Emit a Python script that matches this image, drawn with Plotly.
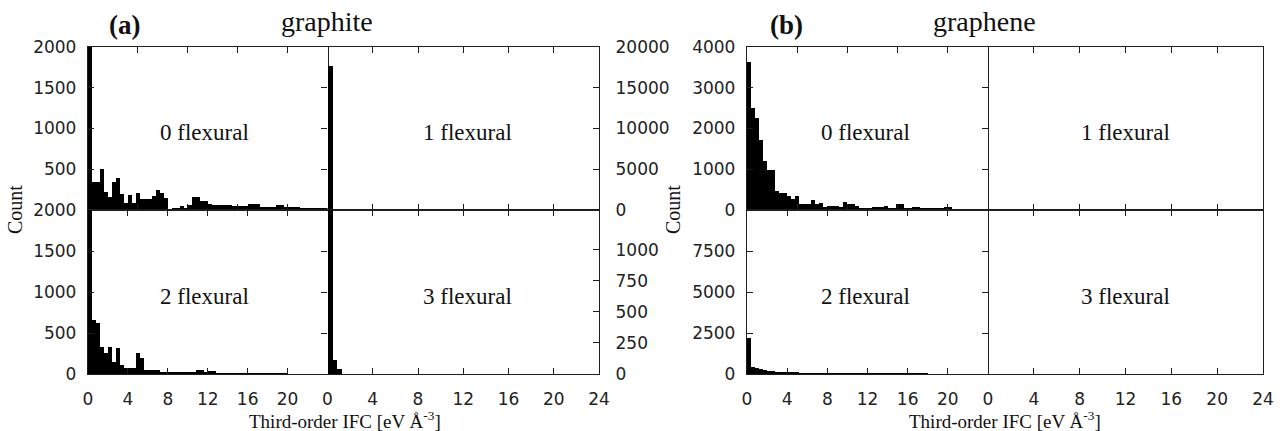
import plotly.graph_objects as go

# ---------------- data (histograms, bin width 0.4 eV/A^3, bins start at 0) ----------------
BIN = 0.4

graphite_0flex = [5500, 348, 348, 503, 225, 164, 340, 388, 200, 82,
                  184, 90, 204, 130, 135, 130, 172, 245, 204, 143,
                  10, 20, 30, 45, 20, 60, 155, 155, 115, 115,
                  70, 65, 60, 60, 60, 60, 55, 55, 55, 50,
                  70, 70, 70, 40, 40, 40, 40, 60, 60, 40,
                  40, 35, 35, 30, 20, 20, 20, 20, 20, 20]
graphite_1flex = [17700, 0, 0, 0]
graphite_2flex = [4000, 660, 620, 333, 260, 333, 150, 313, 110, 77,
                  77, 77, 260, 200, 49, 49, 49, 49, 20, 20,
                  20, 20, 20, 20, 20, 20, 20, 49, 49, 20,
                  37, 37, 10, 10, 10, 10, 8, 8, 8, 8,
                  6, 6, 6, 6, 5, 5, 5, 5, 5, 5]
graphite_3flex = [3000, 113, 40]

graphene_0flex = [3640, 2510, 2270, 1730, 1210, 980, 980, 460, 410, 410,
                  335, 265, 335, 150, 140, 140, 255, 150, 175, 82,
                  110, 110, 110, 82, 188, 147, 147, 100, 40, 40,
                  35, 82, 82, 70, 100, 60, 60, 150, 150, 40,
                  60, 70, 70, 40, 35, 40, 40, 35, 35, 70,
                  70, 20, 15, 15, 15, 15, 15, 15, 15, 15]
graphene_1flex = [0, 0, 0]
graphene_2flex = [2200, 450, 380, 294, 250, 189, 189, 126, 126, 63,
                  63, 63, 63, 42, 42, 42, 20, 20, 15, 15,
                  10, 10, 10, 10, 10, 10, 10, 10, 10, 10,
                  8, 8, 8, 8, 8, 8, 8, 8, 5, 5,
                  5, 5, 5, 5, 5]
graphene_3flex = [0, 0, 0]

left_xticks_top = [5, 10, 15, 20]
left_xticks_bottom = [0, 4, 8, 12, 16, 20]
right_xticks = [0, 4, 8, 12, 16, 20, 24]

yticks_a_top = [500, 1000, 1500, 2000]
yticks_a_bottom = [0, 500, 1000, 1500, 2000]
yticks_a_top_right = [0, 5000, 10000, 15000, 20000]
yticks_a_bottom_right = [0, 250, 500, 750, 1000]
yticks_b_top = [0, 1000, 2000, 3000, 4000]
yticks_b_bottom = [0, 2500, 5000, 7500]

W, H = 1283, 431


def fx(p):
    return p / W


def fy(p):
    return 1 - p / H


def centers(vals):
    return [BIN * (i + 0.5) for i in range(len(vals))]


colA_L, colA_R = (88, 327.5), (327.5, 599)
colB_L, colB_R = (747, 988), (988, 1263)
row_T, row_B = (47, 210), (210, 374)

subplots = {
    1: (graphite_0flex, colA_L, row_T),
    2: (graphite_1flex, colA_R, row_T),
    3: (graphite_2flex, colA_L, row_B),
    4: (graphite_3flex, colA_R, row_B),
    5: (graphene_0flex, colB_L, row_T),
    6: (graphene_1flex, colB_R, row_T),
    7: (graphene_2flex, colB_L, row_B),
    8: (graphene_3flex, colB_R, row_B),
}

fig = go.Figure()
for i, (vals, xd, yd) in subplots.items():
    fig.add_trace(go.Bar(
        x=centers(vals), y=vals, width=BIN,
        marker=dict(color="black", line=dict(width=0)),
        xaxis="x" if i == 1 else f"x{i}", yaxis="y" if i == 1 else f"y{i}",
        showlegend=False, hoverinfo="skip"))

LINE = "#1e1e1e"
TICKFONT = dict(family="DejaVu Sans", size=17, color="#222")
base = dict(showline=True, linecolor=LINE, linewidth=1.3, ticks="inside", ticklen=6,
            tickwidth=1.3, tickcolor=LINE, showgrid=False, zeroline=False,
            tickfont=TICKFONT, fixedrange=True, automargin=False)


def tt(vals):
    return dict(tickvals=vals, ticktext=[str(v) for v in vals])


layout = {}
for i, (vals, xd, yd) in subplots.items():
    xn = "xaxis" if i == 1 else f"xaxis{i}"
    yn = "yaxis" if i == 1 else f"yaxis{i}"
    is_left = i in (1, 3, 5, 7)
    is_top = i in (1, 2, 5, 6)
    xa = dict(base, domain=[fx(xd[0]), fx(xd[1])], range=[0, 24],
              anchor="y" if i == 1 else f"y{i}", mirror="ticks", ticklabelstandoff=9)
    if is_left and is_top:
        xa.update(tickvals=left_xticks_top, showticklabels=False)
    elif is_left:
        xa.update(**tt(left_xticks_bottom))
    elif is_top:
        xa.update(tickvals=right_xticks[1:-1], showticklabels=False)
    else:
        xa.update(**tt(right_xticks))
    ya = dict(base, domain=[fy(yd[1]), fy(yd[0])],
              anchor="x" if i == 1 else f"x{i}")
    if i == 1:
        ya.update(range=[0, 2000], mirror="ticks", ticklabelstandoff=7, **tt(yticks_a_top))
    elif i == 3:
        ya.update(range=[0, 2000], mirror="ticks", ticklabelstandoff=7, **tt(yticks_a_bottom))
    elif i == 2:
        ya.update(range=[0, 20000], side="right", ticklabelstandoff=12, **tt(yticks_a_top_right))
    elif i == 4:
        ya.update(range=[0, 1320], side="right", ticklabelstandoff=12, **tt(yticks_a_bottom_right))
    elif i == 5:
        ya.update(range=[0, 4000], mirror="ticks", ticklabelstandoff=7, **tt(yticks_b_top))
    elif i == 7:
        ya.update(range=[0, 10000], mirror="ticks", ticklabelstandoff=7, **tt(yticks_b_bottom))
    else:
        ya.update(range=[0, 1], ticks="", showticklabels=False, side="right")
    layout[xn] = xa
    layout[yn] = ya

SERIF = "Liberation Serif, Times New Roman, Times, serif"
ann = []


def add_text(text, px, py, size, bold=False, angle=0):
    ann.append(dict(text=f"<b>{text}</b>" if bold else text, x=fx(px), y=fy(py),
                    xref="paper", yref="paper", xanchor="center", yanchor="middle",
                    showarrow=False, textangle=angle,
                    font=dict(family=SERIF, size=size, color="#111")))


add_text("(a)", 124, 25, 27, bold=True)
add_text("graphite", 327, 22, 28)
add_text("(b)", 786, 25, 27, bold=True)
add_text("graphene", 984, 22, 28)
for px, txt in [(204, "0 flexural"), (467, "1 flexural"), (865, "0 flexural"), (1125, "1 flexural")]:
    add_text(txt, px, 132, 23)
for px, txt in [(204, "2 flexural"), (467, "3 flexural"), (865, "2 flexural"), (1125, "3 flexural")]:
    add_text(txt, px, 296, 23)
add_text("Count", 15, 210, 20, angle=-90)
add_text("Count", 673, 210, 20, angle=-90)
add_text("Third-order IFC [eV Å<sup>-3</sup>]", 345, 420, 19)
add_text("Third-order IFC [eV Å<sup>-3</sup>]", 1005, 420, 19)

fig.update_layout(width=W, height=H, margin=dict(l=0, r=0, t=0, b=0),
                  paper_bgcolor="white", plot_bgcolor="white",
                  bargap=0, barmode="overlay", annotations=ann, **layout)

fig.write_html("out.html")
